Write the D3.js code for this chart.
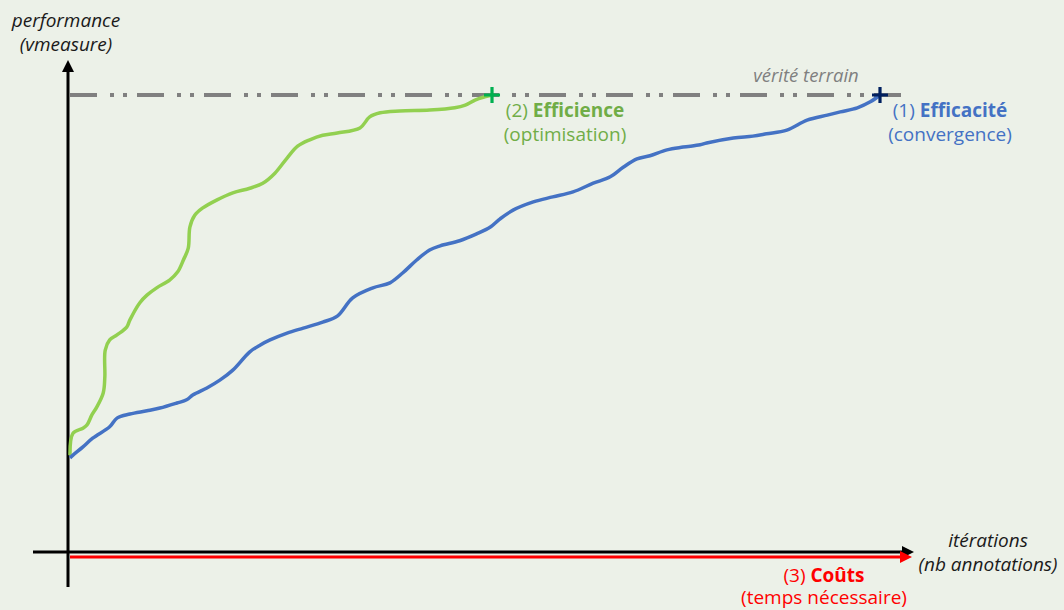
<!DOCTYPE html>
<html><head><meta charset="utf-8">
<script src="https://cdn.jsdelivr.net/npm/d3@7"></script>
<style>
html,body{margin:0;padding:0;background:#ECF1E8;}
svg{display:block;font-family:"Open Sans","Noto Sans",sans-serif;}
</style></head>
<body>
<svg id="chart" width="1064" height="610"></svg>
<script>
// Data (iterations in % of total, performance normalised to ground truth = 1)
const blueIter = [0,0.37,1.6,2.8,4.9,5.8,7.4,9.5,11.1,13.2,14.4,15.2,16.9,18.5,20.1,22.2,23.5,24.7,26.8,28.8,31.2,33.0,34.9,37.4,39.5,41.1,42.8,44.4,45.7,48.1,50.2,51.9,53.1,54.7,57.2,59.6,62.1,64.6,66.7,68.3,70.0,71.6,73.7,75.7,77.8,78.6,81.9,84.3,86.0,88.5,91.0,93.5,95.1,97.2,98.8,100];
const bluePerf = [0.206,0.212,0.230,0.249,0.274,0.293,0.302,0.309,0.315,0.326,0.333,0.344,0.359,0.376,0.398,0.438,0.453,0.464,0.479,0.490,0.503,0.516,0.556,0.578,0.589,0.611,0.639,0.661,0.670,0.681,0.696,0.711,0.729,0.748,0.766,0.777,0.788,0.807,0.821,0.842,0.860,0.867,0.880,0.886,0.891,0.895,0.906,0.910,0.915,0.923,0.945,0.956,0.963,0.972,0.985,1.0];
const greenIter = [0,0.37,1.6,2.1,2.7,3.3,4.1,4.3,4.35,4.9,5.8,7.0,7.4,8.6,9.5,10.7,12.3,13.3,14.0,14.6,14.8,15.4,16.4,18.1,20.1,22.2,23.8,25.3,26.8,28.1,29.6,31.2,33.0,35.8,37.0,38.3,40.7,44.4,47.5,48.8,50.0,51.2,52.1];
const greenPerf = [0.212,0.260,0.271,0.278,0.300,0.317,0.348,0.383,0.442,0.464,0.475,0.492,0.508,0.545,0.562,0.578,0.595,0.613,0.639,0.665,0.711,0.737,0.753,0.770,0.786,0.796,0.807,0.829,0.862,0.888,0.902,0.912,0.917,0.928,0.952,0.961,0.965,0.967,0.972,0.978,0.989,0.996,1.0];
const groundTruth = 1.0;
const yLabel = ["performance","(vmeasure)"];
const xLabel = ["itérations","(nb annotations)"];
const gtLabel = "vérité terrain";

const svg = d3.select("#chart");
const x = d3.scaleLinear().domain([0,100]).range([70,880]);
const y = d3.scaleLinear().domain([0,1]).range([552,95]);

const defs = svg.append("defs");
function marker(id,color){
  defs.append("marker").attr("id",id).attr("viewBox","0 0 10 10").attr("refX",0).attr("refY",5)
    .attr("markerWidth",4).attr("markerHeight",4).attr("orient","auto").attr("markerUnits","strokeWidth")
    .append("path").attr("d","M0,0 L10,5 L0,10 z").attr("fill",color);
}
marker("arrBlack","#000");
marker("arrRed","#FF0000");

// ground truth line
svg.append("line").attr("x1",x(0)).attr("x2",x(100)+33).attr("y1",y(groundTruth)).attr("y2",y(groundTruth))
  .attr("stroke","#808080").attr("stroke-width",4).attr("stroke-dasharray","27,13,4,9,4,10");

// axes
svg.append("line").attr("x1",68).attr("x2",68).attr("y1",587).attr("y2",72)
  .attr("stroke","#000").attr("stroke-width",3).attr("marker-end","url(#arrBlack)");
svg.append("line").attr("x1",33).attr("x2",902).attr("y1",552).attr("y2",552)
  .attr("stroke","#000").attr("stroke-width",3).attr("marker-end","url(#arrBlack)");
svg.append("line").attr("x1",70).attr("x2",900).attr("y1",557).attr("y2",557)
  .attr("stroke","#FF0000").attr("stroke-width",3).attr("marker-end","url(#arrRed)");

const line = d3.line().x(d=>x(d[0])).y(d=>y(d[1])).curve(d3.curveCatmullRom.alpha(0.5));
svg.append("path").datum(greenIter.map((v,i)=>[v,greenPerf[i]])).attr("d",line)
  .attr("fill","none").attr("stroke","#92D050").attr("stroke-width",3.5).attr("stroke-linejoin","round");
svg.append("path").datum(blueIter.map((v,i)=>[v,bluePerf[i]])).attr("d",line)
  .attr("fill","none").attr("stroke","#4472C4").attr("stroke-width",3.5).attr("stroke-linejoin","round");

function plus(cx,cy,color){
  svg.append("path").attr("d",`M${cx-8},${cy}H${cx+8}M${cx},${cy-8}V${cy+8}`)
    .attr("stroke",color).attr("stroke-width",3.2).attr("fill","none");
}
plus(x(greenIter[greenIter.length-1]), y(greenPerf[greenPerf.length-1]), "#00B050");
plus(x(blueIter[blueIter.length-1]), y(bluePerf[bluePerf.length-1]), "#002060");

// texts
function txt(xp,yp,parts,color,size,italic){
  const t = svg.append("text").attr("x",xp).attr("y",yp).attr("text-anchor","middle")
    .attr("fill",color).attr("font-size",size).attr("font-style",italic?"italic":"normal");
  parts.forEach(p=>t.append("tspan").text(p[0]).attr("font-weight",p[1]?"bold":"normal"));
}
txt(66,27,[[yLabel[0]]],"#1a1a1a",19,true);
txt(66,51,[[yLabel[1]]],"#1a1a1a",19,true);
txt(806,82,[[gtLabel]],"#7f7f7f",18.5,true);
txt(565,117,[["(2) "],["Efficience",true]],"#70AD47",19,false);
txt(565,141,[["(optimisation)"]],"#70AD47",19,false);
txt(950,117,[["(1) "],["Efficacité",true]],"#4472C4",19,false);
txt(950,141,[["(convergence)"]],"#4472C4",19,false);
txt(988,547,[[xLabel[0]]],"#1a1a1a",19,true);
txt(988,571,[[xLabel[1]]],"#1a1a1a",19,true);
txt(824,582,[["(3) "],["Coûts",true]],"#FF0000",19,false);
txt(824,604,[["(temps nécessaire)"]],"#FF0000",19,false);
</script>
</body></html>
